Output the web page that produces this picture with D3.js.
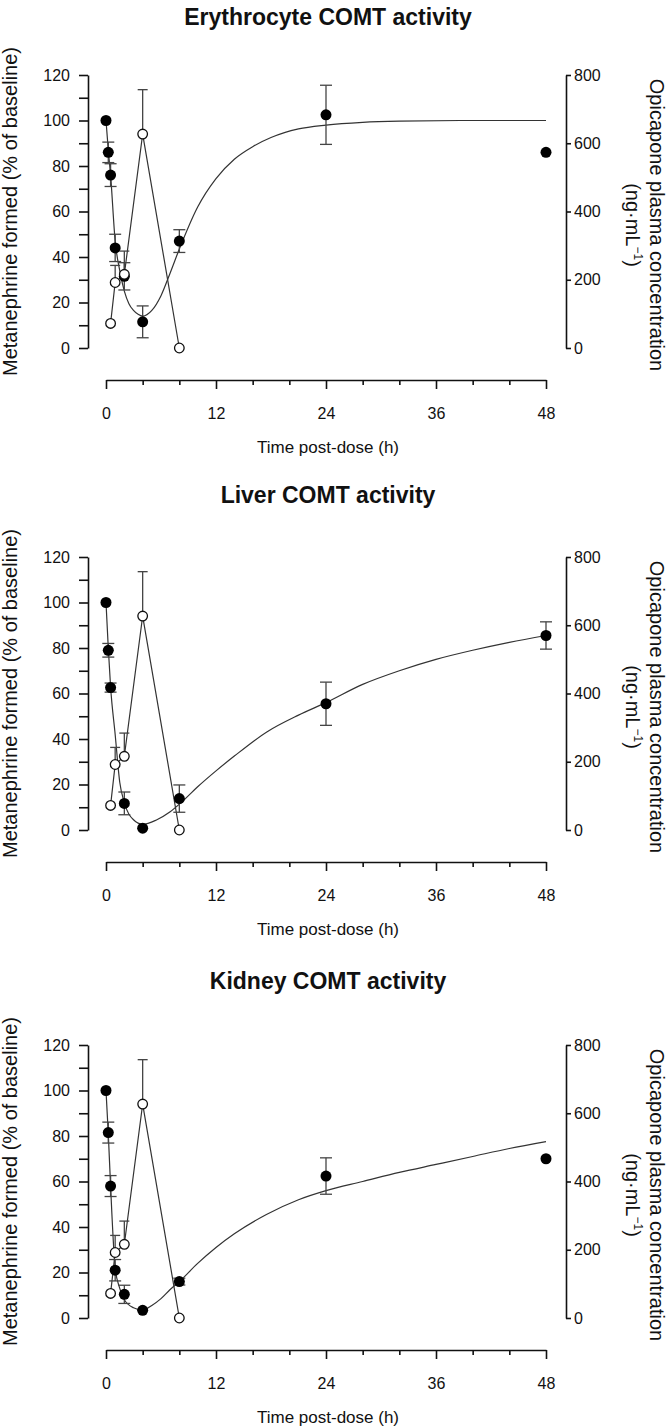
<!DOCTYPE html>
<html><head><meta charset="utf-8">
<script src="https://cdn.jsdelivr.net/npm/d3@7"></script>
<style>
body{margin:0;background:#fff}
svg{display:block}
text{font-family:"Liberation Sans",Arial,Helvetica,sans-serif;fill:#111}
</style>
</head><body>
<svg id="c" width="670" height="1426"></svg>
<script>
// ---------- data ----------
const panelTitles = ["Erythrocyte COMT activity", "Liver COMT activity", "Kidney COMT activity"];
const xTicks = [0, 12, 24, 36, 48];
const leftTicks = [0, 20, 40, 60, 80, 100, 120];
const rightTicks = [0, 200, 400, 600, 800];

// Metanephrine formed (% of baseline), filled circles
const eryTimes = [0, 0.25, 0.5, 1, 2, 4, 8, 24, 48];
const eryValues = [100, 86, 76, 44, 31.5, 11.5, 47, 102.5, 86];
const eryErr = [0, 4.5, 5, 6, 6, 7, 5, 13, 0];

const livTimes = [0, 0.25, 0.5, 2, 4, 8, 24, 48];
const livValues = [100, 79, 62.6, 11.7, 0.8, 13.8, 55.5, 85.5];
const livErr = [0, 3, 2, 5, 0, 6, 9.5, 6];

const kidTimes = [0, 0.25, 0.5, 1, 2, 4, 8, 24, 48];
const kidValues = [100, 81.5, 58, 21, 10.4, 3.4, 16, 62.4, 70];
const kidErr = [0, 4.6, 4.6, 4.7, 4, 0, 1.5, 8, 0];

// fitted curves
const eryCurveT = [0, 0.25, 0.5, 1, 1.5, 2, 2.5, 3, 3.5, 4, 5, 6, 7, 8, 10, 12, 14, 16, 18, 21, 24, 28, 32, 40, 48];
const eryCurveV = [100, 87, 76, 47, 34, 25, 19.5, 16.5, 14.8, 14, 16.5, 23, 33, 43.5, 62, 74.5, 83, 88.5, 92.5, 96.3, 98, 99.2, 99.7, 100, 100];
const livCurveT = [0, 0.25, 0.5, 1, 1.5, 2, 3, 4, 5.5, 7, 8.5, 10, 12, 14, 17.5, 21, 24, 28, 32, 36, 40, 44, 48];
const livCurveV = [100, 80, 63, 42, 21, 12, 4.5, 2.5, 4.4, 8, 13.2, 19, 26, 32.5, 43, 50.5, 56, 64, 70, 75, 79, 82.5, 85.5];
const kidCurveT = [0, 0.25, 0.5, 1, 1.5, 2, 3, 4, 5, 6, 7, 8, 10, 12, 14, 17.5, 21, 24, 28, 32, 36, 40, 44, 48];
const kidCurveV = [100, 81, 58, 22, 13, 8, 4.5, 3.5, 5.5, 8.5, 12.5, 16, 24, 31, 37, 45.5, 52, 56, 60, 64, 67.5, 71, 74.5, 77.5];

// Opicapone plasma concentration (ng/mL), open circles
const opiTimes = [0.5, 1, 2, 4, 8];
const opiValues = [72, 192, 216, 627, 0];
const opiErr = [0, 50, 68, 130, 0];

// ---------- drawing ----------
const svg = d3.select("#c");
const panelTops = [75, 557, 1045];
const titleYs = [25, 503, 989];
const H = 273;
const x = d3.scaleLinear().domain([0, 48]).range([106, 546]);
const LEFT_X = 88, RIGHT_X = 566;

const panels = [
  {t: eryTimes, v: eryValues, e: eryErr, ct: eryCurveT, cv: eryCurveV},
  {t: livTimes, v: livValues, e: livErr, ct: livCurveT, cv: livCurveV},
  {t: kidTimes, v: kidValues, e: kidErr, ct: kidCurveT, cv: kidCurveV}
];

panels.forEach((p, i) => {
  const top = panelTops[i];
  const g = svg.append("g");
  const yL = d3.scaleLinear().domain([0, 120]).range([top + H, top]);
  const yR = d3.scaleLinear().domain([0, 800]).range([top + H, top]);

  // title
  g.append("text").attr("x", 328).attr("y", titleYs[i]).attr("text-anchor", "middle")
    .attr("font-size", 23).attr("font-weight", "bold").text(panelTitles[i]);

  // left axis
  const la = g.append("g").attr("transform", `translate(${LEFT_X},0)`)
    .call(d3.axisLeft(yL).tickValues(d3.range(0, 121, 10))
      .tickFormat(d => leftTicks.includes(d) ? d : "")
      .tickSize(9).tickPadding(9).tickSizeOuter(0));
  la.selectAll("text").attr("font-size", 16).attr("font-family", null);
  la.selectAll("path,line").attr("stroke", "#111").attr("stroke-width", 1.6);

  // right axis
  const ra = g.append("g").attr("transform", `translate(${RIGHT_X},0)`)
    .call(d3.axisRight(yR).tickValues(rightTicks).tickSize(5).tickPadding(3).tickSizeOuter(0));
  ra.selectAll("text").attr("font-size", 16).attr("font-family", null);
  ra.selectAll("path,line").attr("stroke", "#111").attr("stroke-width", 1.6);

  // x axis (detached)
  const xa = top + 305;
  const xm = g.append("g").attr("transform", `translate(0,${xa})`)
    .call(d3.axisBottom(x).tickValues(d3.range(0, 49, 4).filter(d => !xTicks.includes(d)))
      .tickSize(5).tickFormat("").tickSizeOuter(0));
  xm.selectAll("path").remove();
  xm.selectAll("line").attr("stroke", "#111").attr("stroke-width", 1.6);
  const xM = g.append("g").attr("transform", `translate(0,${xa})`)
    .call(d3.axisBottom(x).tickValues(xTicks).tickSize(9).tickPadding(19).tickSizeOuter(0));
  xM.selectAll("text").attr("font-size", 16).attr("font-family", null);
  xM.selectAll("path,line").attr("stroke", "#111").attr("stroke-width", 1.6);

  g.append("text").attr("x", 328).attr("y", top + 378).attr("text-anchor", "middle")
    .attr("font-size", 17).text("Time post-dose (h)");

  // left axis title
  g.append("text").attr("transform", `translate(17,${top + H / 2}) rotate(-90)`)
    .attr("text-anchor", "middle").attr("font-size", 20)
    .text("Metanephrine formed (% of baseline)");

  // right axis titles
  g.append("text").attr("transform", `translate(650,${top + 150}) rotate(90)`)
    .attr("text-anchor", "middle").attr("font-size", 20)
    .text("Opicapone plasma concentration");
  const t2 = g.append("text").attr("transform", `translate(626,${top + 150}) rotate(90)`)
    .attr("text-anchor", "middle").attr("font-size", 20);
  t2.append("tspan").text("(ng\u00B7mL");
  t2.append("tspan").attr("font-size", 12).attr("dy", -8).text("\u22121");
  t2.append("tspan").attr("dy", 8).text(")");

  // fitted curve
  const cdata = p.ct.map((t, k) => [t, p.cv[k]]);
  g.append("path").datum(cdata)
    .attr("d", d3.line().x(d => x(d[0])).y(d => yL(d[1])).curve(d3.curveMonotoneX))
    .attr("fill", "none").attr("stroke", "#333").attr("stroke-width", 1.2);

  // opicapone line
  const odata = opiTimes.map((t, k) => [t, opiValues[k], opiErr[k]]);
  g.append("path").datum(odata)
    .attr("d", d3.line().x(d => x(d[0])).y(d => yR(d[1])))
    .attr("fill", "none").attr("stroke", "#333").attr("stroke-width", 1.2);

  // filled error bars
  const fdata = p.t.map((t, k) => [t, p.v[k], p.e[k]]);
  const eb = g.append("g").attr("stroke", "#444").attr("stroke-width", 1.3);
  fdata.filter(d => d[2] > 0).forEach(d => {
    const cx = x(d[0]);
    eb.append("line").attr("x1", cx).attr("x2", cx).attr("y1", yL(d[1] - d[2])).attr("y2", yL(d[1] + d[2]));
    [d[1] - d[2], d[1] + d[2]].forEach(v => {
      eb.append("line").attr("x1", cx - 6).attr("x2", cx + 6).attr("y1", yL(v)).attr("y2", yL(v));
    });
  });
  // open error bars (upper only)
  odata.filter(d => d[2] > 0).forEach(d => {
    const cx = x(d[0]);
    eb.append("line").attr("x1", cx).attr("x2", cx).attr("y1", yR(d[1])).attr("y2", yR(d[1] + d[2]));
    eb.append("line").attr("x1", cx - 5).attr("x2", cx + 5).attr("y1", yR(d[1] + d[2])).attr("y2", yR(d[1] + d[2]));
  });

  // filled points
  g.selectAll(".f").data(fdata).enter().append("circle")
    .attr("cx", d => x(d[0])).attr("cy", d => yL(d[1])).attr("r", 5.5)
    .attr("fill", "#000");
  // open points
  g.selectAll(".o").data(odata).enter().append("circle")
    .attr("cx", d => x(d[0])).attr("cy", d => yR(d[1])).attr("r", 4.8)
    .attr("fill", "#fff").attr("stroke", "#111").attr("stroke-width", 1.3);
});
</script>
</body></html>
